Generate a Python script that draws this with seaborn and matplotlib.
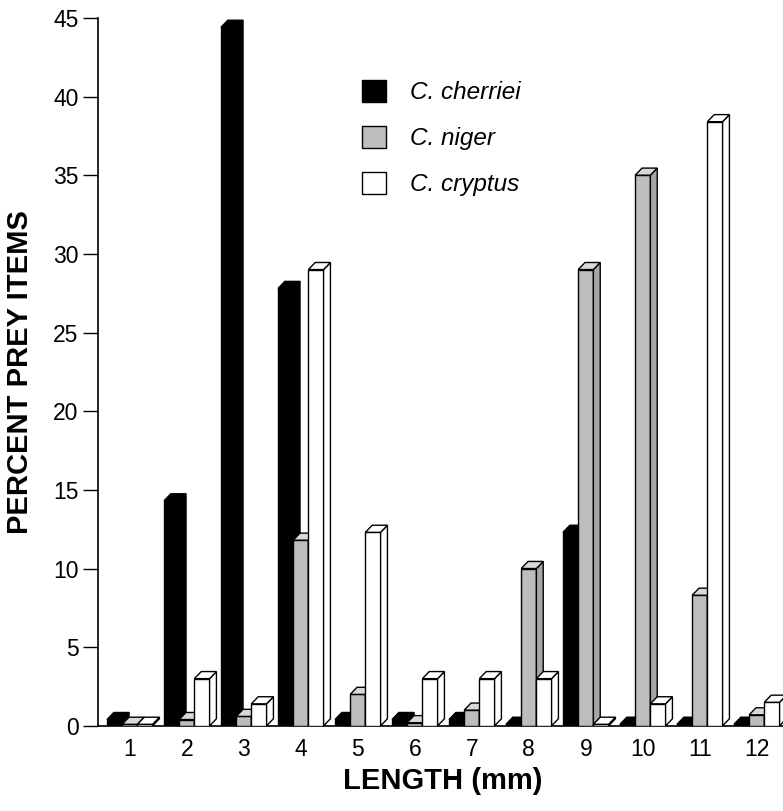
import matplotlib
matplotlib.use("Agg")
import matplotlib.pyplot as plt
import seaborn as sns
import pandas as pd
from matplotlib.patches import Polygon

lengths = ["1", "2", "3", "4", "5", "6", "7", "8", "9", "10", "11", "12"]
species = ["C. cherriei", "C. niger", "C. cryptus"]
cherriei = [0.4, 14.3, 44.4, 27.8, 0.4, 0.4, 0.4, 0.1, 12.3, 0.1, 0.1, 0.1]
niger = [0.1, 0.4, 0.6, 11.8, 2.0, 0.2, 1.0, 10.0, 29.0, 35.0, 8.3, 0.7]
cryptus = [0.1, 3.0, 1.4, 29.0, 12.3, 3.0, 3.0, 3.0, 0.1, 1.4, 38.4, 1.5]

face_colors = ["#000000", "#bdbdbd", "#ffffff"]
top_colors = ["#000000", "#d9d9d9", "#ffffff"]
side_colors = ["#000000", "#a6a6a6", "#ffffff"]

rows = []
for sp, vals in zip(species, [cherriei, niger, cryptus]):
    for L, v in zip(lengths, vals):
        rows.append({"length": L, "species": sp, "pct": v})
df = pd.DataFrame(rows)

sns.set_style("white")
plt.rcParams["font.family"] = ["Liberation Sans", "DejaVu Sans"]
plt.rcParams["text.color"] = "black"
plt.rcParams["axes.labelcolor"] = "black"
plt.rcParams["xtick.color"] = "black"
plt.rcParams["ytick.color"] = "black"

fig = plt.figure(figsize=(7.83, 8.11), dpi=100)
ax = fig.add_axes([0.125, 0.105, 0.875, 0.873])

sns.barplot(data=df, x="length", y="pct", hue="species", order=lengths,
            hue_order=species, palette=face_colors, edgecolor="black",
            linewidth=1.0, width=0.8, ax=ax, legend=True)

dx, dy = 0.12, 0.45
for i, cont in enumerate(ax.containers):
    for bar in cont:
        bar.set_zorder(2 + i)
        x0 = bar.get_x()
        x1 = x0 + bar.get_width()
        h = bar.get_height()
        top = Polygon([(x0, h), (x0 + dx, h + dy), (x1 + dx, h + dy), (x1, h)],
                      closed=True, facecolor=top_colors[i], edgecolor="black",
                      linewidth=1.0, zorder=2 + i)
        side = Polygon([(x1, 0), (x1 + dx, dy), (x1 + dx, h + dy), (x1, h)],
                       closed=True, facecolor=side_colors[i], edgecolor="black",
                       linewidth=1.0, zorder=2 + i)
        ax.add_patch(side)
        ax.add_patch(top)

ax.set_xlim(-0.56, 11.46)
ax.set_ylim(0, 45)
ax.set_yticks(range(0, 46, 5))
ax.tick_params(axis="y", direction="out", length=11, width=1.0, labelsize=16.5,
               left=True, pad=3, colors="black")
ax.tick_params(axis="x", length=0, labelsize=16.5, pad=9, colors="black")
for s in ["top", "right"]:
    ax.spines[s].set_visible(False)
ax.spines["left"].set_linewidth(1.2)
ax.spines["bottom"].set_linewidth(1.2)
ax.spines["left"].set_color("black")
ax.spines["bottom"].set_color("black")

ax.set_xlabel("LENGTH (mm)", fontsize=21, fontweight="bold", color="black")
ax.set_ylabel("PERCENT PREY ITEMS", fontsize=21, fontweight="bold", color="black")
ax.xaxis.set_label_coords(0.504, -0.058)
ax.yaxis.set_label_coords(-0.093, 0.5)

leg = ax.legend(loc="upper left", bbox_to_anchor=(0.353, 0.943), frameon=False,
                fontsize=17.5, handlelength=1.0, handleheight=1.0,
                labelspacing=0.9, handletextpad=1.0, title=None)
for t in leg.get_texts():
    t.set_fontstyle("italic")
    t.set_color("black")
for hnd in leg.legend_handles:
    hnd.set_edgecolor("black")

fig.savefig("out.png", dpi=100)
